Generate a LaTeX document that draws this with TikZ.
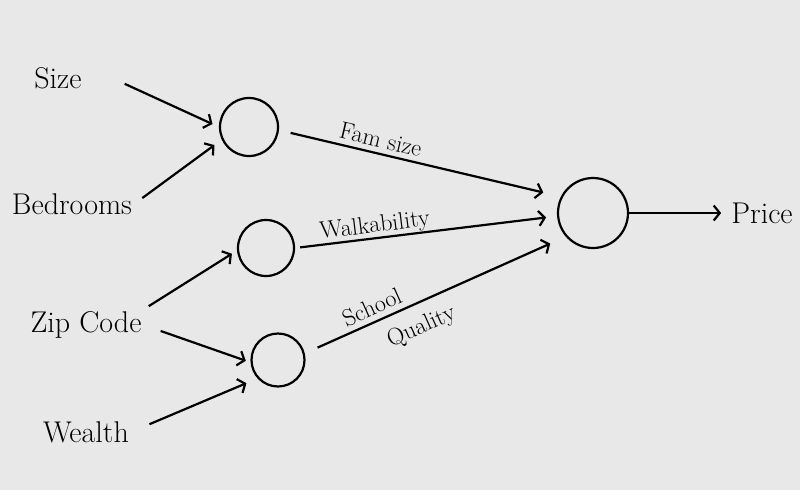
\documentclass[tikz,border=0pt]{standalone}
\usetikzlibrary{arrows.meta}
\definecolor{paper}{RGB}{232,232,232}
\tikzset{
	neuron/.style={draw,circle,line width=2.2pt,inner sep=0pt},
	feat/.style={font=\fontsize{30}{34}\selectfont,inner sep=2pt},
	wlbl/.style={font=\fontsize{24}{28}\selectfont,inner sep=2pt,sloped},
	link/.style={line width=2.2pt,-{Straight Barb[length=6pt,width=15pt]}}
}
\begin{document}
\begin{tikzpicture}[x=1pt,y=-1pt]
				\fill[paper](0,0)rectangle(800,490);
				\node[feat](size)at(58,78){Size};
				\node[feat](bed)at(72,204){Bedrooms};
				\node[feat](zip)at(86,325){Zip Code};
				\node[feat](wealth)at(86,432){Wealth};
				\node[feat](price)at(762,213){Price};
				\node[neuron,minimum size=58pt](h1)at(249,127){};
				\node[neuron,minimum size=56pt](h2)at(266,248){};
				\node[neuron,minimum size=53pt](h3)at(278,360){};
				\node[neuron,minimum size=70pt](out)at(593,213){};
				% inputs to hidden units
				\draw[link,shorten <=45pt,shorten >=7pt](size.north east)--(h1.180);
				\draw[link,shorten <=10pt,shorten >=9pt](bed.east)--(h1.205);
				\draw[link,shorten <=6pt,shorten >=6pt](zip.north east)--(h2.185);
				\draw[link,shorten <=18pt,shorten >=5pt](zip.east)--(h3.185);
				\draw[link,shorten <=20pt,shorten >=12pt](wealth.east)--(h3.222);
				% hidden units to output
				\draw[link,shorten <=12pt,shorten >=18pt](h1.-6)--node[wlbl,above,inner sep=5pt,pos=.35]{Fam size}(out.153);
				\draw[link,shorten <=5pt,shorten >=11pt](h2.0)--node[wlbl,above,inner sep=0pt,pos=.31]{Walkability}(out.185);
				\draw[link,shorten <=14pt,shorten >=17pt](h3.14)--node[wlbl,above,inner sep=5pt,pos=.28]{School}node[wlbl,below,inner sep=12pt,pos=.41]{Quality}(out.221);
				\draw[link,shorten >=8pt](out.east)--(price.west);
			\end{tikzpicture}
\end{document}
